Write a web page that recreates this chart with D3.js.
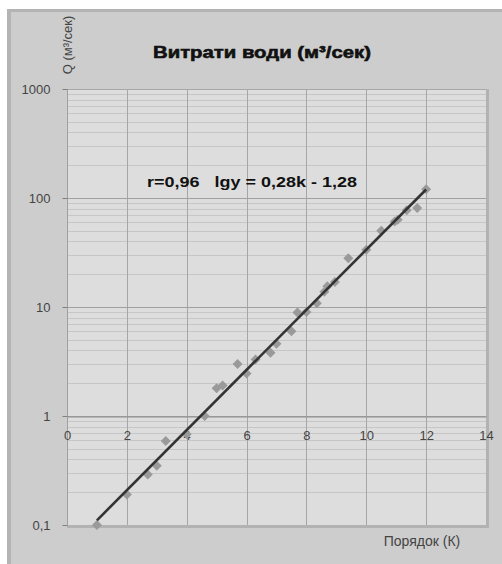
<!DOCTYPE html>
<html>
<head>
<meta charset="utf-8">
<script src="https://cdn.jsdelivr.net/npm/d3@7/dist/d3.min.js"></script>
<style>
  html, body { margin: 0; padding: 0; background: #ffffff; }
  svg { display: block; }
  text { font-family: "Liberation Sans", Arial, sans-serif; }
  .equation { white-space: pre; }
</style>
</head>
<body>
<svg id="chart" width="502" height="564"></svg>
<script>
// Order number K of each observation
const orderK = [1.0, 2.0, 2.7, 3.0, 3.3, 4.0, 4.6, 5.0, 5.2, 5.7, 6.0, 6.3, 6.8, 7.0,
                7.5, 7.7, 8.0, 8.35, 8.6, 8.7, 8.95, 9.4, 10.0, 10.5, 10.95, 11.05,
                11.35, 11.7, 12.0];
// Water discharge Q, m³/s
const discharge = [0.10, 0.19, 0.29, 0.35, 0.59, 0.68, 1.0, 1.8, 1.9, 3.0, 2.45, 3.3, 3.8, 4.6,
                   6.0, 8.9, 9.0, 10.8, 13.8, 15.5, 17.0, 28, 33.5, 50, 61, 63,
                   77, 81, 120];
const xTicks = [0, 2, 4, 6, 8, 10, 12, 14];
const yTicks = [0.1, 1, 10, 100, 1000];
const yTickLabels = ["0,1", "1", "10", "100", "1000"];
const titleText = "Витрати води (м³/сек)";
const yTitleText = "Q (м³/сек)";
const xTitleText = "Порядок (К)";
const equationText = "r=0,96   lgy = 0,28k - 1,28";

const svg = d3.select("#chart");

// Chart frame
svg.append("rect").attr("x", 7).attr("y", 9).attr("width", 500).attr("height", 560)
  .attr("fill", "#b4b4b4");
svg.append("rect").attr("x", 11).attr("y", 12).attr("width", 500).attr("height", 560)
  .attr("fill", "#cdcdcd");

const L = 67, R = 486, T = 89, B = 525;
const x = d3.scaleLinear().domain([0, 14]).range([L, R]);
const y = d3.scaleLog().domain([0.1, 1000]).range([B, T]);

// Plot area shadow + fill
svg.append("rect").attr("x", L).attr("y", T).attr("width", R - L + 3).attr("height", B - T + 3)
  .attr("fill", "#b2b2b2");
svg.append("rect").attr("x", L).attr("y", T).attr("width", R - L).attr("height", B - T)
  .attr("fill", "#dddddd");

// Minor horizontal gridlines
const minor = [];
for (let e = -1; e < 3; e++) for (let m = 2; m <= 9; m++) minor.push(m * Math.pow(10, e));
svg.append("g").selectAll("line").data(minor).join("line")
  .attr("x1", L).attr("x2", R)
  .attr("y1", d => Math.round(y(d)) + 0.5).attr("y2", d => Math.round(y(d)) + 0.5)
  .attr("stroke", "#c6c6c6").attr("stroke-width", 1);

// Vertical gridlines
svg.append("g").selectAll("line").data(xTicks.slice(1, -1)).join("line")
  .attr("x1", d => Math.round(x(d)) + 0.5).attr("x2", d => Math.round(x(d)) + 0.5)
  .attr("y1", T).attr("y2", B)
  .attr("stroke", "#a6a6a6").attr("stroke-width", 1);

// Major horizontal gridlines
svg.append("g").selectAll("line").data(yTicks.slice(1, -1)).join("line")
  .attr("x1", L).attr("x2", R)
  .attr("y1", d => Math.round(y(d)) + 0.5).attr("y2", d => Math.round(y(d)) + 0.5)
  .attr("stroke", "#a0a0a0").attr("stroke-width", 1);

// Plot border (top / left)
svg.append("line").attr("x1", L + 0.5).attr("x2", L + 0.5).attr("y1", T).attr("y2", B)
  .attr("stroke", "#a0a0a0");
svg.append("line").attr("x1", L).attr("x2", R).attr("y1", T + 0.5).attr("y2", T + 0.5)
  .attr("stroke", "#a8a8a8");

// Y axis
const yAxis = d3.axisLeft(y).tickValues(yTicks)
  .tickFormat((d, i) => yTickLabels[i]).tickSize(5).tickPadding(12);
const gy = svg.append("g").attr("transform", `translate(${L + 0.5},0)`).call(yAxis);
gy.select(".domain").remove();
gy.selectAll(".tick line").attr("stroke", "#808080");
gy.selectAll(".tick text").attr("fill", "#444").attr("font-size", 13);

// X axis crossing at Q = 1
const xAxis = d3.axisBottom(x).tickValues(xTicks).tickSize(0).tickPadding(17);
const gx = svg.append("g").attr("transform", `translate(0,${Math.round(y(1)) + 0.5})`).call(xAxis);
gx.select(".domain").attr("stroke", "#909090");
gx.selectAll(".tick text").attr("fill", "#444").attr("font-size", 13).attr("dy", "0.5em");

// Trend line: least-squares fit of lg Q on K
const lg = discharge.map(Math.log10);
const mx = d3.mean(orderK), my = d3.mean(lg);
const slope = d3.sum(orderK, (k, i) => (k - mx) * (lg[i] - my)) / d3.sum(orderK, k => (k - mx) ** 2);
const icpt = my - slope * mx;
const kExt = d3.extent(orderK);
const fit = kExt.map(k => [k, Math.pow(10, slope * k + icpt)]);

// Data markers (diamonds)
svg.append("g").selectAll("path").data(orderK).join("path")
  .attr("d", d3.symbol().type(d3.symbolSquare).size(50))
  .attr("transform", (d, i) => `translate(${x(d)},${y(discharge[i])}) rotate(45)`)
  .attr("fill", "#9a9a9a");

svg.append("path").datum(fit)
  .attr("d", d3.line().x(d => x(d[0])).y(d => y(d[1])))
  .attr("stroke", "#333333").attr("stroke-width", 2.6).attr("fill", "none");

// Titles and annotation
svg.append("text").attr("x", 262).attr("y", 58).attr("text-anchor", "middle")
  .attr("font-family", "'DejaVu Sans', sans-serif").attr("font-weight", "bold")
  .attr("font-size", 17).attr("fill", "#111").attr("stroke", "#111").attr("stroke-width", 0.6)
  .attr("textLength", 218).attr("lengthAdjust", "spacingAndGlyphs").text(titleText);
svg.append("text").attr("transform", "translate(72,45) rotate(-90)")
  .attr("text-anchor", "middle").attr("font-size", 13).attr("fill", "#444").text(yTitleText);
svg.append("text").attr("x", 422).attr("y", 546).attr("text-anchor", "middle")
  .attr("font-size", 14).attr("fill", "#444").text(xTitleText);
svg.append("text").attr("class", "equation").attr("x", 147).attr("y", 187)
  .attr("font-weight", "bold").attr("font-size", 15.5).attr("fill", "#111")
  .attr("textLength", 210).attr("lengthAdjust", "spacingAndGlyphs").text(equationText);
</script>
</body>
</html>
